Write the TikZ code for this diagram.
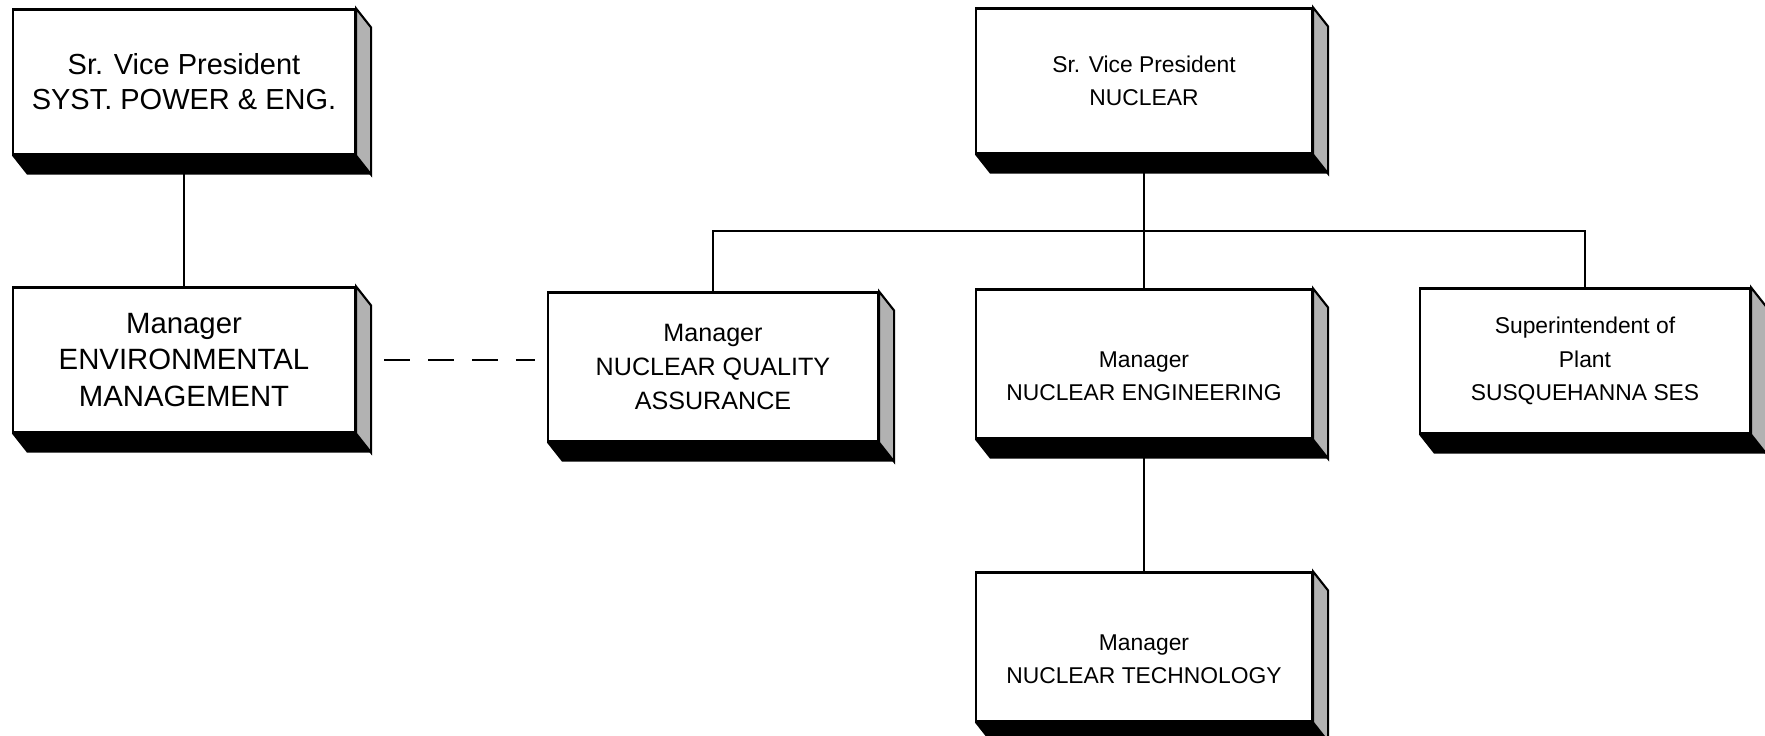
\documentclass[tikz,border=0pt]{standalone}
\usepackage{fontspec}
\setmainfont{Liberation Sans}
\usetikzlibrary{calc}

% side and bottom faces of a raised box
\newcommand{\boxshade}[1]{%
  \fill (#1.south west) -- ++(15,19) -- ($(#1.south east)+(15,19)$)
    -- (#1.south east) -- cycle;
  \filldraw[fill=black!30] (#1.north east) -- ++(15,19)
    -- ($(#1.south east)+(15,19)$) -- (#1.south east) -- cycle;
}

\begin{document}
\begin{tikzpicture}[
    x=0.02cm, y=-0.02cm, line width=1.2pt,
    orgbox/.style={draw, fill=white, inner sep=0pt, align=center,
                   minimum width=336*0.02cm, minimum height=145*0.02cm,
                   font=\fontsize{13}{19}\selectfont},
    bigbox/.style={orgbox, minimum width=342*0.02cm,
                   font=\fontsize{16.7}{21}\selectfont},
    lowtext/.style={align=center, yshift=-6.8pt,
                    font=\fontsize{13}{19}\selectfont}
  ]
  \useasboundingbox (0,0) rectangle (1765,735);

  % Left branch
  \node[bigbox, font=\fontsize{16.5}{20}\selectfont] (svpsys) at (184,82)
    {Sr. Vice President\\SYST. POWER \& ENG.};
  \node[bigbox] (envmgr) at (184,360)
    {Manager\\ENVIRONMENTAL\\MANAGEMENT};

  % Nuclear branch
  \node[orgbox] (svpnuc) at (1144,81) {Sr. Vice President\\NUCLEAR};
  \node[orgbox, minimum width=330*0.02cm, minimum height=149*0.02cm,
        font=\fontsize{14.3}{19.5}\selectfont]
    (nqa) at (713,367) {Manager\\NUCLEAR QUALITY\\ASSURANCE};
  \node[orgbox, minimum height=149*0.02cm,
        label={[lowtext]center:Manager\\NUCLEAR ENGINEERING}]
    (nuceng) at (1144,364) {};
  \node[orgbox, minimum width=330*0.02cm] (supt) at (1585,361)
    {Superintendent of\\Plant\\SUSQUEHANNA SES};
  \node[orgbox, minimum height=149*0.02cm,
        label={[lowtext]center:Manager\\NUCLEAR TECHNOLOGY}]
    (nuctech) at (1144,647) {};

  \foreach \b in {svpsys,envmgr,svpnuc,nqa,nuceng,supt,nuctech}
    {\boxshade{\b}}

  % Connectors
  \coordinate (bus) at (1144,231);
  \draw (svpsys.south) -- (envmgr.north);
  \draw (svpnuc.south) -- (bus);
  \draw (nqa.north) |- (bus) -| (supt.north);
  \draw (bus) -- (nuceng.north);
  \draw (nuceng.south) -- (nuctech.north);
  \draw[dash pattern=on 14.8pt off 10.2pt, shorten <=16pt, shorten >=7pt]
    (envmgr.east) -- (envmgr.east -| nqa.west);
\end{tikzpicture}
\end{document}
